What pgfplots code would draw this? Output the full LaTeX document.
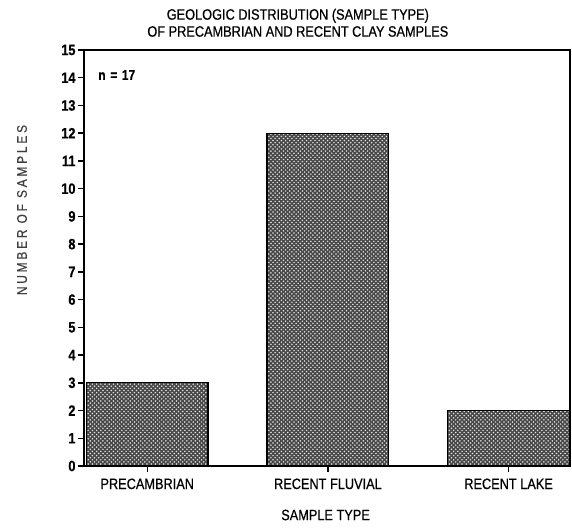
\documentclass[border=0pt]{standalone}
\usepackage{fontspec}
\setmainfont{Liberation Sans}[FakeStretch=0.85,FakeBold=0.6]
\usepackage{pgfplots}
\pgfplotsset{compat=1.18}
\usetikzlibrary{patterns}
\pgfdeclarepatternformonly{mydots}{\pgfqpoint{-1pt}{-1pt}}{\pgfqpoint{5pt}{5pt}}{\pgfqpoint{4.2pt}{4.2pt}}{%
  \pgfpathcircle{\pgfqpoint{0pt}{0pt}}{0.85pt}%
  \pgfpathcircle{\pgfqpoint{2.1pt}{2.1pt}}{0.85pt}%
  \pgfusepath{fill}}
\begin{document}
\begin{tikzpicture}
\begin{axis}[
  at={(0,0)}, anchor=south west,
  scale only axis, width=486pt, height=416pt,
  xmin=-0.35, xmax=2.34, ymin=0, ymax=15,
  ytick={0,...,15},
  xtick={0,1,2},
  xticklabels={PRECAMBRIAN, RECENT FLUVIAL, RECENT LAKE},
  tick align=outside, tick pos=left,
  major tick length=6pt,
  axis line style={line width=1.4pt},
  every tick/.style={line width=1.4pt, black},
  clip=false,
  /pgf/number format/assume math mode=true,
  yticklabel style={font=\fontsize{15}{16}\selectfont\bfseries, xshift=1pt},
  xticklabel style={font=\fontsize{15}{17}\selectfont, yshift=-3pt},
]
\addplot[ybar, bar width=0.674, draw=black, line width=1.3pt,
  fill=black!72, postaction={pattern=mydots, pattern color=white!90!black}]
  coordinates {(0,3) (1,12) (2,2)};
\node[font=\fontsize{14}{16}\selectfont\bfseries, anchor=west] at (axis cs:-0.29,14.1) {n\,\,=\,\,17};
\node[font=\fontsize{15}{17}\selectfont, align=center, anchor=south, inner sep=0pt] at (rel axis cs:0.44,1) [yshift=13pt] {GEOLOGIC DISTRIBUTION (SAMPLE TYPE)\\OF PRECAMBRIAN AND RECENT CLAY SAMPLES};
\node[font=\fontsize{14}{15}\selectfont\addfontfeature{LetterSpace=20}, text=black!75, rotate=90] at ([xshift=-62pt]axis cs:-0.35,9.23) {NUMBER\ OF\ SAMPLES};
\node[font=\fontsize{15}{17}\selectfont] at (rel axis cs:0.497,0) [yshift=-49pt] {SAMPLE TYPE};
\end{axis}
\path (-84pt,-61pt) rectangle (488pt,466pt);
\end{tikzpicture}
\end{document}
